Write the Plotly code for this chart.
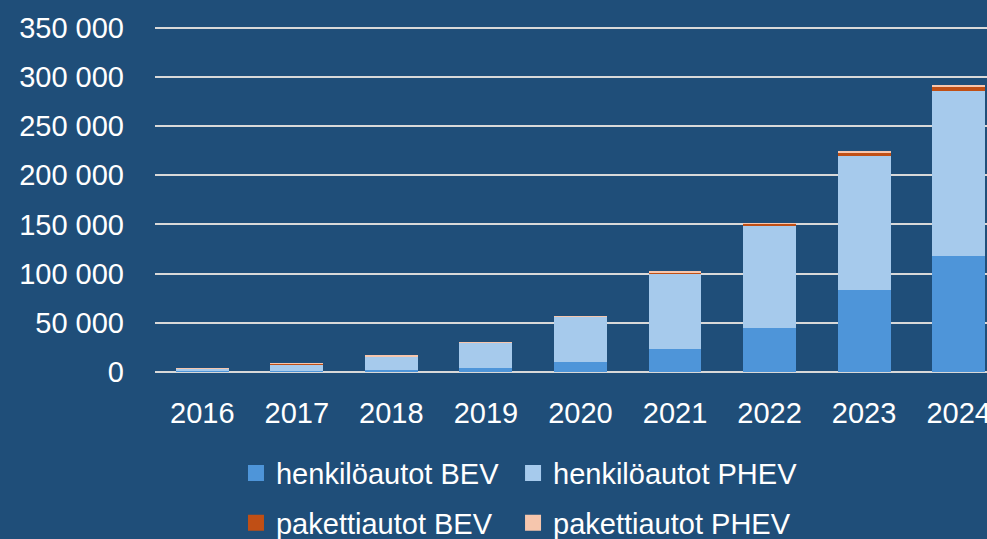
import plotly.graph_objects as go

years = ["2016", "2017", "2018", "2019", "2020", "2021", "2022", "2023", "2024"]
henkilo_bev = [800, 1300, 1700, 3900, 9700, 23200, 45000, 83700, 118000]
henkilo_phev = [2600, 6800, 14300, 25600, 46300, 76800, 103400, 135600, 167500]
paketti_bev = [50, 100, 200, 200, 300, 1300, 2300, 3800, 5000]
paketti_phev = [500, 400, 300, 300, 300, 400, 500, 600, 800]
y_ticks = [0, 50000, 100000, 150000, 200000, 250000, 300000, 350000]

series = [
    ("henkilöautot BEV", henkilo_bev, "#4E95D9", "legend"),
    ("henkilöautot PHEV", henkilo_phev, "#A6CAEC", "legend2"),
    ("pakettiautot BEV", paketti_bev, "#C04F15", "legend3"),
    ("pakettiautot PHEV", paketti_phev, "#F6C6AD", "legend4"),
]

BG = "#1F4E79"
FONT = "Liberation Sans"

fig = go.Figure()
for name, vals, color, lg in series:
    fig.add_trace(go.Bar(x=years, y=vals, name=name, marker=dict(color=color, line=dict(width=0)),
                         showlegend=False, hoverinfo="skip"))
for name, vals, color, lg in series:
    fig.add_trace(go.Scatter(x=[None], y=[None], mode="markers", name=name, legend=lg,
                             marker=dict(symbol="square", size=17, color=color)))

legend_common = dict(orientation="h", xref="container", yref="container", xanchor="left",
                     yanchor="middle", bgcolor="rgba(0,0,0,0)", traceorder="normal",
                     font=dict(size=29, color="#FFFFFF"),
                     itemclick=False, itemdoubleclick=False)

col1, col2 = 0.2391, 0.5198
row1, row2 = 0.1224, 0.0297

fig.update_layout(
    width=987, height=539,
    paper_bgcolor=BG, plot_bgcolor=BG,
    barmode="stack", bargap=0.44,
    separators=", ",
    margin=dict(l=155, r=0, t=26, b=167, pad=0, autoexpand=False),
    font=dict(family=FONT, size=28, color="#FFFFFF"),
    xaxis=dict(type="category", range=[-0.5, 8.3], showgrid=False, showline=False,
               ticks="", tickfont=dict(size=29, color="#FFFFFF"), ticklabelstandoff=21),
    yaxis=dict(range=[0, 351800], tickvals=y_ticks,
               tickformat=",d", showgrid=True, gridcolor="#D9D9D9", gridwidth=2,
               zeroline=True, zerolinecolor="#D9D9D9", zerolinewidth=2, showline=False,
               ticks="", tickfont=dict(size=29, color="#FFFFFF"), ticklabelstandoff=30),
    legend=dict(legend_common, x=col1, y=row1),
    legend2=dict(legend_common, x=col2, y=row1),
    legend3=dict(legend_common, x=col1, y=row2),
    legend4=dict(legend_common, x=col2, y=row2),
    showlegend=True,
)

fig.write_html("out.html", config={"displayModeBar": False},
               post_script="document.body.style.margin='0';document.body.style.padding='0';"
                           "document.body.style.overflow='hidden';")
